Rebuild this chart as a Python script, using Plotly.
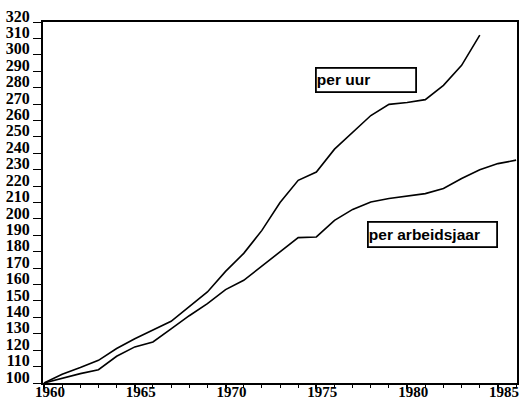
import plotly.graph_objects as go

years_uur = list(range(1960, 1985))
per_uur = [100, 105.3, 109.4, 113.8, 121, 127, 132.3, 137.6, 146.5, 155.5,
           168, 179, 193, 210, 223.5, 228.6, 242.5, 253, 263, 269.8,
           270.9, 272.7, 281.4, 293.6, 312]

years_jaar = list(range(1960, 1987))
per_arbeidsjaar = [100, 103, 105.7, 108.1, 116.3, 122, 125, 133, 141, 148.4,
                   156.9, 162.6, 171.1, 179.8, 188.6, 189, 199.1, 205.8, 210.3, 212.4,
                   214, 215.4, 218.5, 224.6, 230, 233.7, 235.8]

x_ticks = [1960, 1965, 1970, 1975, 1980, 1985]
y_ticks = list(range(100, 330, 10))

labels = ["per uur", "per arbeidsjaar"]

fig = go.Figure()
fig.add_trace(go.Scatter(x=years_uur, y=per_uur, mode="lines",
                         line=dict(color="black", width=1.6), name=labels[0]))
fig.add_trace(go.Scatter(x=years_jaar, y=per_arbeidsjaar, mode="lines",
                         line=dict(color="black", width=1.6), name=labels[1]))

tickfont_y = dict(family="Liberation Serif, Times New Roman, serif", size=16, color="black", weight="bold")
tickfont_x = dict(family="Liberation Serif, Times New Roman, serif", size=15, color="black", weight="bold")

fig.update_xaxes(range=[1959.945, 1986.05], tickvals=x_ticks, ticktext=[str(v) for v in x_ticks],
                 showgrid=False, zeroline=False, showline=True, linecolor="black", linewidth=2,
                 mirror=True, ticks="outside", ticklen=4, tickwidth=1.5, tickcolor="black",
                 minor=dict(dtick=1, tick0=1960, ticks="outside", ticklen=3, tickwidth=1, tickcolor="black"),
                 tickfont=tickfont_x, ticklabelshift=6, ticklabelstandoff=-10,
                 automargin=False, ticklabeloverflow="allow")
fig.update_yaxes(range=[100, 320], tickvals=y_ticks, ticktext=[str(v) for v in y_ticks],
                 showgrid=False, zeroline=False, showline=True, linecolor="black", linewidth=2,
                 mirror=True, ticks="outside", ticklen=8, tickwidth=1.2, tickcolor="black",
                 tickfont=tickfont_y, ticklabelshift=-6, automargin=False, ticklabeloverflow="allow")

annfont = dict(family="Liberation Sans, Arial, sans-serif", size=15.5, color="black", weight="bold")
fig.add_annotation(x=1974.92, y=292.4, xref="x", yref="y", text=labels[0], showarrow=False,
                   xanchor="left", yanchor="top", align="left", width=98, height=22,
                   bordercolor="black", borderwidth=1.8, borderpad=0, bgcolor="white", font=annfont)
fig.add_annotation(x=1977.79, y=198.5, xref="x", yref="y", text=labels[1], showarrow=False,
                   xanchor="left", yanchor="top", align="left", width=127, height=23,
                   bordercolor="black", borderwidth=1.8, borderpad=0, bgcolor="white", font=annfont)

fig.update_layout(width=522, height=403, margin=dict(l=43, r=5, t=22, b=20),
                  plot_bgcolor="white", paper_bgcolor="white", showlegend=False)

# remove the browser's default 8px body margin so the figure fills the window exactly
fig.write_html("out.html", config={"displayModeBar": False},
               post_script="document.body.style.margin='0';document.body.style.overflow='hidden';")
